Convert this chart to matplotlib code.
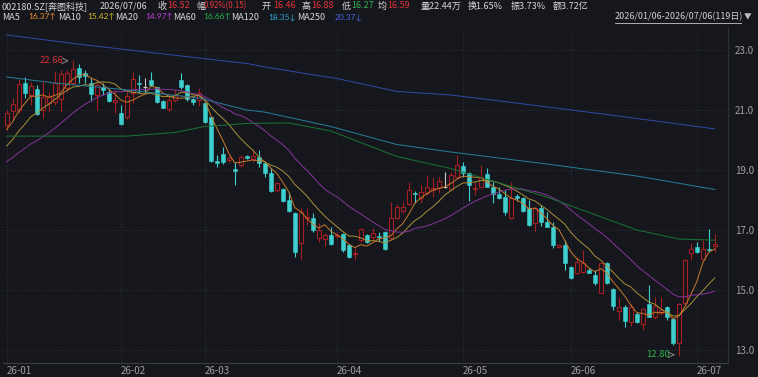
import numpy as np
import matplotlib
matplotlib.use('Agg')
import matplotlib.pyplot as plt
from matplotlib.lines import Line2D

plt.rcParams['font.family'] = ['Noto Sans CJK SC', 'DejaVu Sans']

# daily OHLC, 2026/01/06 - 2026/07/06 (119 trading days)
opens = [20.50, 20.98, 21.00, 21.89, 21.50, 21.69, 21.00, 21.22, 21.28, 21.36,
         21.72, 21.89, 22.39, 22.24, 21.91, 21.50, 21.76, 21.59, 21.28, 20.89,
         20.75, 21.56, 21.91, 21.78, 22.00, 21.76, 21.30, 21.03, 21.33, 22.00,
         21.83, 21.37, 21.33, 21.24, 20.76, 19.30, 19.53, 19.33, 19.02, 19.17,
         19.47, 19.36, 19.44, 19.22, 18.91, 18.33, 18.36, 18.00, 17.58, 16.56,
         17.39, 17.39, 16.72, 16.69, 16.83, 16.80, 16.87, 16.50, 16.20, 16.67,
         16.83, 16.76, 16.80, 16.94, 16.72, 17.39, 17.63, 17.87, 18.24, 18.06,
         18.22, 18.33, 18.39, 18.44, 18.36, 18.76, 19.13, 18.91, 18.36, 18.44,
         18.87, 18.44, 18.20, 18.09, 17.39, 18.14, 18.06, 17.72, 17.22, 17.72,
         17.28, 17.11, 16.42, 16.50, 15.78, 15.58, 15.60, 15.67, 15.50, 14.91,
         15.91, 15.02, 14.31, 14.44, 13.94, 14.20, 13.87, 14.53, 14.11, 14.22,
         14.44, 14.02, 13.22, 14.56, 16.22, 16.44, 16.02, 16.38, 16.46]
highs = [21.00, 21.39, 22.02, 22.09, 21.94, 21.83, 21.94, 21.61, 22.31, 22.33,
         22.33, 22.66, 22.53, 22.33, 22.06, 21.94, 21.90, 21.69, 21.67, 21.17,
         21.60, 22.28, 22.17, 22.08, 22.28, 21.78, 21.33, 21.50, 21.67, 22.22,
         21.88, 21.40, 21.72, 21.28, 20.78, 19.50, 19.76, 19.45, 19.28, 19.50,
         19.50, 19.67, 19.67, 19.24, 19.06, 18.57, 18.40, 18.28, 17.61, 17.72,
         17.72, 17.56, 17.24, 16.89, 17.10, 16.94, 16.89, 16.52, 16.39, 17.06,
         16.87, 17.06, 16.94, 16.97, 17.94, 17.87, 17.94, 18.59, 18.30, 18.50,
         18.83, 18.78, 18.78, 18.94, 18.94, 19.50, 19.28, 18.94, 18.61, 19.17,
         19.06, 18.61, 18.44, 18.33, 18.61, 18.20, 18.09, 18.00, 17.78, 17.83,
         17.61, 17.28, 16.52, 16.67, 15.80, 16.11, 16.33, 15.72, 15.67, 15.94,
         15.94, 15.06, 14.72, 14.50, 14.55, 14.28, 14.39, 15.17, 14.78, 14.78,
         14.47, 14.06, 14.56, 16.02, 16.56, 16.61, 16.67, 17.02, 16.88]
lows = [20.33, 20.67, 20.90, 21.39, 21.17, 20.83, 20.72, 20.94, 21.17, 20.94,
        21.60, 21.83, 21.89, 21.89, 21.31, 21.00, 21.50, 21.28, 20.89, 20.50,
        20.70, 21.22, 21.55, 21.55, 21.80, 21.22, 21.05, 20.94, 21.28, 21.69,
        21.30, 21.17, 21.13, 20.56, 19.28, 19.10, 19.20, 19.28, 18.50, 19.11,
        19.35, 19.28, 19.11, 18.78, 18.28, 18.28, 17.95, 17.61, 16.11, 16.00,
        17.17, 16.94, 16.61, 16.47, 16.50, 16.72, 16.28, 16.06, 16.00, 16.61,
        16.58, 16.67, 16.64, 16.33, 16.67, 17.36, 17.56, 17.83, 17.89, 17.89,
        18.17, 18.11, 18.22, 18.39, 18.33, 18.72, 18.78, 17.98, 18.17, 18.42,
        18.42, 17.89, 18.02, 17.50, 17.37, 17.97, 17.61, 17.13, 16.94, 17.13,
        17.09, 16.39, 16.40, 15.67, 15.36, 15.53, 15.56, 15.56, 15.17, 14.89,
        15.20, 14.33, 14.00, 13.78, 13.80, 13.90, 13.67, 14.09, 14.05, 14.17,
        14.00, 13.17, 12.80, 14.50, 16.00, 16.22, 16.00, 16.28, 16.27]
closes = [20.89, 21.20, 21.85, 21.56, 21.80, 20.87, 21.44, 21.44, 21.89, 22.20,
          22.22, 22.36, 22.11, 22.13, 21.52, 21.83, 21.67, 21.31, 21.33, 20.53,
          21.45, 22.02, 21.86, 21.78, 21.83, 21.28, 21.08, 21.33, 21.50, 21.78,
          21.35, 21.28, 21.56, 20.61, 19.31, 19.22, 19.28, 19.39, 18.98, 19.44,
          19.40, 19.47, 19.22, 18.91, 18.31, 18.55, 17.97, 17.64, 16.28, 17.61,
          17.44, 17.00, 17.00, 16.83, 16.53, 16.85, 16.33, 16.11, 16.25, 17.02,
          16.61, 16.89, 16.78, 16.36, 17.39, 17.76, 17.78, 18.33, 18.20, 18.28,
          18.44, 18.39, 18.64, 18.44, 18.83, 19.17, 18.91, 18.50, 18.39, 18.76,
          18.44, 18.20, 18.06, 17.61, 18.06, 18.06, 17.64, 17.17, 17.72, 17.28,
          17.11, 16.50, 16.49, 15.89, 15.39, 15.94, 15.90, 15.58, 15.24, 15.89,
          15.22, 14.47, 14.42, 13.97, 14.42, 13.94, 14.36, 14.11, 14.47, 14.33,
          14.09, 13.22, 14.55, 16.00, 16.36, 16.26, 16.36, 16.33, 16.52]
# closes before the window, estimated from where MA5/10/20 start
pre_closes = [18.5, 18.6, 18.7, 18.9, 18.8, 18.7, 18.9, 18.8, 18.8, 18.9,
              19.0, 19.1, 19.3, 19.3, 19.55, 19.9, 20.1, 20.3, 20.58]

# long moving averages (day index, value)
ma60_days = [0, 20, 28, 33, 40, 47, 54, 65, 74, 90, 105, 112, 118]
ma60_vals = [20.13, 20.13, 20.25, 20.45, 20.55, 20.57, 20.30, 19.45, 19.05, 18.10, 17.00, 16.70, 16.66]
ma120_days = [0, 8, 20, 32, 40, 43, 54, 65, 74, 90, 105, 118]
ma120_vals = [22.10, 21.90, 21.67, 21.40, 21.00, 20.93, 20.45, 19.85, 19.60, 19.20, 18.80, 18.35]
ma250_days = [0, 13, 40, 44, 55, 65, 74, 85, 100, 118]
ma250_vals = [23.50, 23.17, 22.55, 22.40, 22.05, 21.62, 21.50, 21.23, 20.85, 20.37]

month_pos = [0, 19, 33, 55, 76, 94, 115]
month_labels = ['26-01', '26-02', '26-03', '26-04', '26-05', '26-06', '26-07']
price_ticks = [13, 15, 17, 19, 21, 23]

BG = '#15171c'
RED = '#a51e22'
CYAN = '#3fcfcf'
GREY = '#c8c8c8'
GRID = '#2b2e36'
TXT = '#a0a0a0'
W, H = 758, 377

fig = plt.figure(figsize=(W / 100, H / 100), dpi=100, facecolor=BG)
ax = fig.add_axes([3 / W, (H - 363) / H, (728 - 3) / W, (363 - 28) / H], facecolor=BG)

o = np.array(opens)
h = np.array(highs)
l = np.array(lows)
c = np.array(closes)
idx = np.arange(len(c))
up = c > o
down = c < o
flat = c == o

for mask, col in ((up, RED), (down, CYAN), (flat, GREY)):
    ax.vlines(idx[mask], l[mask], h[mask], color=col, lw=0.8, zorder=2)
ax.bar(idx[up], (c - o)[up], bottom=o[up], width=0.62, facecolor=BG,
       edgecolor=RED, lw=0.8, zorder=3)
ax.bar(idx[down], (o - c)[down], bottom=c[down], width=0.62, color=CYAN,
       edgecolor=CYAN, lw=0.4, zorder=3)
ax.hlines(c[flat], idx[flat] - 0.33, idx[flat] + 0.33, color=GREY, lw=0.8, zorder=3)

# short moving averages from the closes
allc = np.array(pre_closes + closes)
def ma(n):
    m = np.convolve(allc, np.ones(n) / n, mode='valid')
    return m[-len(c):]

lw_ma = 0.7
ax.plot(idx, ma(5), color='#c67a2a', lw=lw_ma, zorder=4)
ax.plot(idx, ma(10), color='#a8913a', lw=lw_ma, zorder=4)
ax.plot(idx, ma(20), color='#86349a', lw=lw_ma, zorder=4)
ax.plot(ma60_days, ma60_vals, color='#1b7434', lw=lw_ma, zorder=4)
ax.plot(ma120_days, ma120_vals, color='#27809a', lw=lw_ma, zorder=4)
ax.plot(ma250_days, ma250_vals, color='#2f4aa8', lw=lw_ma, zorder=4)

# max / min markers
ax.text(9.4, 22.64, '22.66', color='#d8303a', fontsize=6.8, ha='right', va='center')
ax.annotate('', xy=(10.8, 22.64), xytext=(9.5, 22.64),
            arrowprops=dict(arrowstyle='->', color='#8a8a8a', lw=0.7))
ax.text(110.6, 12.84, '12.80', color='#2fb14e', fontsize=6.8, ha='right', va='center')
ax.annotate('', xy=(111.8, 12.84), xytext=(110.7, 12.84),
            arrowprops=dict(arrowstyle='->', color='#8a8a8a', lw=0.7))

ax.set_xlim(-0.62, 120.2)
ax.set_ylim(12.567, 23.733)
ax.yaxis.tick_right()
ax.set_yticks(price_ticks)
ax.set_yticklabels(['%.1f' % t for t in price_ticks])
ax.set_xticks(month_pos)
ax.set_xticklabels(month_labels, ha='left')
ax.tick_params(axis='both', length=0, colors=TXT, labelsize=7)
ax.tick_params(axis='y', pad=5)
ax.tick_params(axis='x', pad=2)
ax.grid(True, color=GRID, linestyle=':', lw=0.8)
for side in ('top', 'left'):
    ax.spines[side].set_visible(False)
ax.spines['right'].set_color('#2e3139')
ax.spines['bottom'].set_color('#3a3d45')

# header rows
FS = 6.5
def ftext(x, y, s, col, size=FS, family=None):
    kw = {} if family is None else {'family': family}
    fig.text(x / W, 1 - y / H, s, color=col, fontsize=size, va='center', **kw)

row1 = [(2, '002180.SZ[奔图科技]', '#d8d8d8', FS), (100, '2026/07/06', '#d8d8d8', FS),
        (157, '收', '#d8d8d8', FS), (167, '16.52', '#e0333a', FS),
        (196, '幅', '#d8d8d8', FS), (204, '0.92%(0.15)', '#e0333a', 5.7),
        (262, '开', '#d8d8d8', FS), (273, '16.46', '#e0333a', FS),
        (302, '高', '#d8d8d8', FS), (311, '16.88', '#e0333a', FS),
        (342, '低', '#d8d8d8', FS), (351, '16.27', '#2fb14e', FS),
        (378, '均', '#d8d8d8', FS), (387, '16.59', '#e0333a', FS),
        (421, '量22.44万', '#d8d8d8', FS), (468, '换1.65%', '#d8d8d8', FS),
        (511, '振3.73%', '#d8d8d8', FS), (553, '额3.72亿', '#d8d8d8', FS)]
for x, s, col, size in row1:
    ftext(x, 6, s, col, size)

row2 = [(2, 'MA5', 28, '16.37↑', '#f0902a'),
        (58, 'MA10', 87, '15.42↑', '#d9b92e'),
        (115, 'MA20', 145, '14.97↑', '#c040d8'),
        (173, 'MA60', 203, '16.66↑', '#27b552'),
        (231, 'MA120', 268, '18.35↓', '#2fa8cf'),
        (297, 'MA250', 335, '20.37↓', '#4766e6')]
for xn, name, xv, val, col in row2:
    ftext(xn, 17, name, '#d8d8d8')
    ftext(xv, 17, val, col, size=6.0, family=['Lato', 'DejaVu Sans'])

ftext(615, 17, '2026/01/06-2026/07/06(119日)', '#d0d0d0')
fig.add_artist(Line2D([615 / W, 741 / W], [1 - 23 / H, 1 - 23 / H], color='#c8c8c8', lw=0.6))
ftext(744, 17, '▼', '#c0c0c0', size=5.5)

fig.savefig('out.png', dpi=100, facecolor=BG)
